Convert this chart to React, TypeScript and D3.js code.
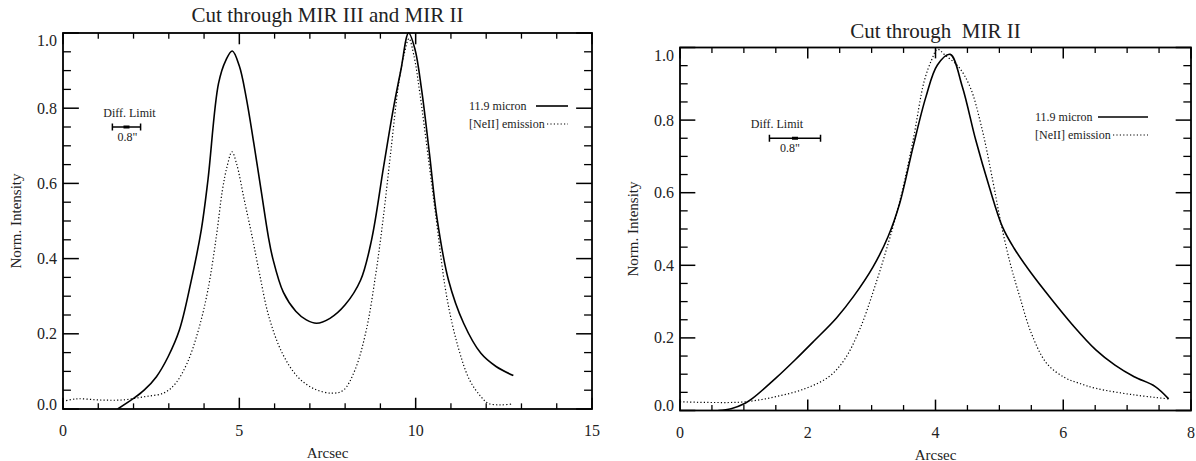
import React from 'react';
import * as d3 from 'd3';

// ---------- Data: left panel (Cut through MIR III and MIR II) ----------
const leftSolidX = [1.55, 2.0, 2.3, 2.65, 2.98, 3.3, 3.62, 3.92, 4.11, 4.41, 4.62, 4.8, 5.0, 5.19, 5.41, 5.63, 5.82, 5.95, 6.25, 6.6, 6.9, 7.19, 7.57, 8.0, 8.44, 8.75, 9.09, 9.36, 9.58, 9.8, 9.98, 10.17, 10.39, 10.6, 10.93, 11.36, 11.85, 12.28, 12.77];
const leftSolidY = [0.0, 0.028, 0.05, 0.086, 0.139, 0.21, 0.334, 0.476, 0.609, 0.866, 0.928, 0.952, 0.912, 0.831, 0.707, 0.574, 0.46, 0.40, 0.31, 0.26, 0.237, 0.228, 0.241, 0.277, 0.343, 0.45, 0.644, 0.795, 0.901, 1.0, 0.957, 0.848, 0.68, 0.511, 0.343, 0.228, 0.148, 0.113, 0.089];
const leftDotX = [0.0, 0.38, 1.03, 1.68, 2.33, 2.87, 3.19, 3.52, 3.84, 4.11, 4.35, 4.52, 4.65, 4.79, 4.92, 5.14, 5.36, 5.57, 5.84, 6.22, 6.65, 7.09, 7.63, 7.95, 8.28, 8.6, 8.87, 9.07, 9.3, 9.52, 9.68, 9.81, 9.95, 10.12, 10.33, 10.55, 10.88, 11.2, 11.53, 11.85, 12.06, 12.39, 12.71];
const leftDotY = [0.02, 0.027, 0.024, 0.024, 0.033, 0.043, 0.068, 0.122, 0.21, 0.317, 0.46, 0.582, 0.644, 0.684, 0.653, 0.556, 0.46, 0.361, 0.245, 0.148, 0.086, 0.055, 0.042, 0.05, 0.104, 0.21, 0.36, 0.5, 0.689, 0.867, 0.946, 0.985, 0.94, 0.839, 0.689, 0.529, 0.299, 0.166, 0.077, 0.033, 0.015, 0.011, 0.013];
const leftXTicks = [0, 5, 10, 15];
const leftXTickLabels = ['0', '5', '10', '15'];

// ---------- Data: right panel (Cut through MIR II) ----------
const rightSolidX = [0.6, 0.8, 1.02, 1.14, 1.5, 1.8, 2.09, 2.45, 2.72, 3.02, 3.26, 3.44, 3.65, 3.85, 4.03, 4.23, 4.42, 4.63, 4.84, 5.05, 5.23, 5.5, 5.8, 6.15, 6.51, 6.81, 7.11, 7.44, 7.65];
const rightSolidY = [0.0, 0.005, 0.02, 0.034, 0.089, 0.139, 0.19, 0.255, 0.315, 0.395, 0.48, 0.571, 0.727, 0.864, 0.952, 0.981, 0.892, 0.745, 0.617, 0.505, 0.447, 0.378, 0.31, 0.235, 0.167, 0.125, 0.093, 0.066, 0.032];
const rightDotX = [0.0, 0.54, 1.02, 1.5, 1.97, 2.33, 2.57, 2.81, 3.05, 3.32, 3.47, 3.65, 3.82, 3.94, 4.03, 4.15, 4.36, 4.54, 4.72, 4.9, 5.02, 5.17, 5.32, 5.5, 5.74, 6.03, 6.25, 6.51, 7.11, 7.65];
const rightDotY = [0.024, 0.022, 0.024, 0.038, 0.061, 0.093, 0.139, 0.222, 0.341, 0.497, 0.598, 0.745, 0.905, 0.966, 0.995, 0.979, 0.947, 0.892, 0.782, 0.63, 0.52, 0.405, 0.313, 0.213, 0.13, 0.09, 0.075, 0.061, 0.043, 0.032];
const rightXTicks = [0, 2, 4, 6, 8];
const rightXTickLabels = ['0', '2', '4', '6', '8'];

// ---------- Shared ----------
const yTicks = [0, 0.2, 0.4, 0.6, 0.8, 1.0];
const yTickLabels = ['0.0', '0.2', '0.4', '0.6', '0.8', '1.0'];
const diffLimitRange = [1.4, 2.2];
const diffLimitLevel = 0.75;
const seriesNames = ['11.9 micron', '[NeII] emission'];

const FONT = "'Liberation Serif', 'DejaVu Serif', serif";
const TXT = '#222';

type PanelProps = {
  x0: number; x1: number; y0: number; y1: number;
  xMax: number; xTicks: number[]; xTickLabels: string[]; xMinorStep: number;
  title: string; titleY: number;
  solidX: number[]; solidY: number[]; dotX: number[]; dotY: number[];
  legX: number; legY: number; legLine: [number, number]; legDotStart: number;
  dlTextDx: number; dlLabelDx: number;
  ylabX: number;
};

function Panel(p: PanelProps) {
  const xs = d3.scaleLinear().domain([0, p.xMax]).range([p.x0, p.x1]);
  const ys = d3.scaleLinear().domain([0, 1]).range([p.y1, p.y0]);
  const line = d3.line<[number, number]>().x(d => xs(d[0])).y(d => ys(d[1])).curve(d3.curveCatmullRom.alpha(0.5));
  const solid = line(p.solidX.map((x, i) => [x, p.solidY[i]] as [number, number])) || '';
  const dotted = line(p.dotX.map((x, i) => [x, p.dotY[i]] as [number, number])) || '';

  const w = p.x1 - p.x0;
  const h = p.y1 - p.y0;
  const yMajLen = 0.03 * w, yMinLen = 0.015 * w;
  const xMajLen = 0.03 * h, xMinLen = 0.015 * h;

  const xMinor = d3.range(0, p.xMax + 1e-9, p.xMinorStep).filter(v => !p.xTicks.some(t => Math.abs(t - v) < 1e-9));
  const yMinor = d3.range(0, 1 + 1e-9, 0.05).filter(v => !yTicks.some(t => Math.abs(t - v) < 1e-9));

  const dlY = ys(diffLimitLevel);
  const dlA = xs(diffLimitRange[0]);
  const dlB = xs(diffLimitRange[1]);
  const dlC = (dlA + dlB) / 2;

  return (
    <g>
      <text x={(p.x0 + p.x1) / 2} y={p.titleY} textAnchor="middle" fontFamily={FONT} fontSize={21} fill={TXT}>{p.title}</text>
      <defs>
        <clipPath id={'clip' + p.x0}>
          <rect x={p.x0} y={p.y0 - 2} width={w} height={h + 2} />
        </clipPath>
      </defs>
      {/* curves */}
      <g clipPath={`url(#clip${p.x0})`}>
        <path d={solid} fill="none" stroke="#000" strokeWidth={1.6} strokeLinejoin="round" />
        <path d={dotted} fill="none" stroke="#000" strokeWidth={1.2} strokeDasharray="1.2,2.2" />
      </g>
      {/* frame */}
      <rect x={p.x0} y={p.y0} width={w} height={h} fill="none" stroke="#000" strokeWidth={1.8} />
      {/* x ticks */}
      {p.xTicks.map((t, i) => (
        <g key={'xt' + i}>
          <line x1={xs(t)} x2={xs(t)} y1={p.y1} y2={p.y1 - xMajLen} stroke="#000" strokeWidth={1.5} />
          <line x1={xs(t)} x2={xs(t)} y1={p.y0} y2={p.y0 + xMajLen} stroke="#000" strokeWidth={1.5} />
          <text x={xs(t)} y={p.y1 + 27} textAnchor="middle" fontFamily={FONT} fontSize={16} fill={TXT}>{p.xTickLabels[i]}</text>
        </g>
      ))}
      {xMinor.map((t, i) => (
        <g key={'xm' + i}>
          <line x1={xs(t)} x2={xs(t)} y1={p.y1} y2={p.y1 - xMinLen} stroke="#000" strokeWidth={1.3} />
          <line x1={xs(t)} x2={xs(t)} y1={p.y0} y2={p.y0 + xMinLen} stroke="#000" strokeWidth={1.3} />
        </g>
      ))}
      {/* y ticks */}
      {yTicks.map((t, i) => {
        let ly = ys(t) + 5.5;
        if (t === 1) ly = ys(t) + 13;
        if (t === 0) ly = ys(t) + 0.5;
        return (
          <g key={'yt' + i}>
            <line x1={p.x0} x2={p.x0 + yMajLen} y1={ys(t)} y2={ys(t)} stroke="#000" strokeWidth={1.5} />
            <line x1={p.x1} x2={p.x1 - yMajLen} y1={ys(t)} y2={ys(t)} stroke="#000" strokeWidth={1.5} />
            <text x={p.x0 - 6} y={ly} textAnchor="end" fontFamily={FONT} fontSize={16} fill={TXT}>{yTickLabels[i]}</text>
          </g>
        );
      })}
      {yMinor.map((t, i) => (
        <g key={'ym' + i}>
          <line x1={p.x0} x2={p.x0 + yMinLen} y1={ys(t)} y2={ys(t)} stroke="#000" strokeWidth={1.3} />
          <line x1={p.x1} x2={p.x1 - yMinLen} y1={ys(t)} y2={ys(t)} stroke="#000" strokeWidth={1.3} />
        </g>
      ))}
      {/* axis labels */}
      <text x={(p.x0 + p.x1) / 2} y={p.y1 + 49} textAnchor="middle" fontFamily={FONT} fontSize={15} fill={TXT}>Arcsec</text>
      <text transform={`translate(${p.ylabX},${(p.y0 + p.y1) / 2}) rotate(-90)`} textAnchor="middle" fontFamily={FONT} fontSize={15} fill={TXT}>Norm. Intensity</text>
      {/* diffraction limit bar */}
      <text x={dlC + p.dlTextDx} y={dlY - 10} textAnchor="middle" fontFamily={FONT} fontSize={12} fill={TXT}>Diff. Limit</text>
      <line x1={dlA} x2={dlB} y1={dlY} y2={dlY} stroke="#000" strokeWidth={1.5} />
      <line x1={dlA} x2={dlA} y1={dlY - 3.5} y2={dlY + 3.5} stroke="#000" strokeWidth={1.5} />
      <line x1={dlB} x2={dlB} y1={dlY - 3.5} y2={dlY + 3.5} stroke="#000" strokeWidth={1.5} />
      <line x1={dlC - 3} x2={dlC + 3} y1={dlY} y2={dlY} stroke="#000" strokeWidth={3} />
      <text x={dlC + p.dlLabelDx} y={dlY + 14} textAnchor="middle" fontFamily={FONT} fontSize={12} fill={TXT}>0.8"</text>
      {/* legend */}
      <text x={p.legX} y={p.legY + 4} fontFamily={FONT} fontSize={12} fill={TXT}>{seriesNames[0]}</text>
      <line x1={p.legLine[0]} x2={p.legLine[1]} y1={p.legY} y2={p.legY} stroke="#000" strokeWidth={1.6} />
      <text x={p.legX} y={p.legY + 22} fontFamily={FONT} fontSize={12} fill={TXT}>{seriesNames[1]}</text>
      <line x1={p.legDotStart} x2={p.legLine[1]} y1={p.legY + 18} y2={p.legY + 18} stroke="#000" strokeWidth={1.2} strokeDasharray="1.2,2.2" />
    </g>
  );
}

export default function App() {
  return (
    <svg width={1196} height={461} style={{ position: 'absolute', left: 0, top: 0, background: '#fff' }}>
      <rect x={0} y={0} width={1196} height={461} fill="#fff" />
      <Panel x0={63} x1={592} y0={33} y1={409} xMax={15} xTicks={leftXTicks} xTickLabels={leftXTickLabels} xMinorStep={1}
        title="Cut through MIR III and MIR II" titleY={22}
        solidX={leftSolidX} solidY={leftSolidY} dotX={leftDotX} dotY={leftDotY}
        legX={469} legY={106} legLine={[536, 568]} legDotStart={547}
        dlTextDx={3} dlLabelDx={1} ylabX={21} />
      <Panel x0={680} x1={1191} y0={47.5} y1={410.5} xMax={8} xTicks={rightXTicks} xTickLabels={rightXTickLabels} xMinorStep={0.5}
        title={'Cut through\u00a0 MIR II'} titleY={38}
        solidX={rightSolidX} solidY={rightSolidY} dotX={rightDotX} dotY={rightDotY}
        legX={1035} legY={117} legLine={[1098, 1148]} legDotStart={1113}
        dlTextDx={-18} dlLabelDx={-5} ylabX={638} />
    </svg>
  );
}
